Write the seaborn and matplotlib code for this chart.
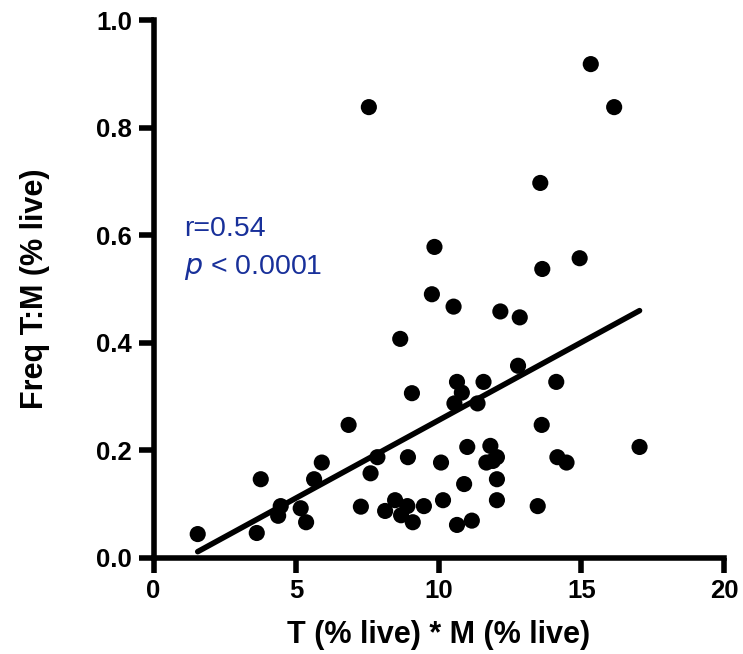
import matplotlib
matplotlib.use("Agg")
import matplotlib.pyplot as plt
import seaborn as sns
import numpy as np
import pandas as pd

# Data
tm_product = [1.55, 3.62, 3.76, 4.37, 4.46, 5.16, 5.35, 5.63, 5.90, 6.84,
              7.27, 7.55, 7.61, 7.85, 8.12, 8.47, 8.68, 8.65, 8.90, 8.92,
              9.06, 9.09, 9.48, 9.76, 9.85, 10.08, 10.15, 10.52, 10.55, 10.64,
              10.64, 10.81, 10.89, 11.00, 11.16, 11.36, 11.57, 11.67, 11.81, 11.90,
              12.04, 12.04, 12.04, 12.16, 12.78, 12.84, 13.47, 13.56, 13.61, 13.63,
              14.12, 14.16, 14.48, 14.94, 15.33, 16.15, 17.04]
freq_tm = [0.044, 0.046, 0.146, 0.078, 0.096, 0.092, 0.066, 0.146, 0.177, 0.247,
           0.095, 0.838, 0.157, 0.187, 0.087, 0.107, 0.079, 0.407, 0.096, 0.187,
           0.306, 0.066, 0.096, 0.490, 0.578, 0.177, 0.107, 0.467, 0.287, 0.327,
           0.061, 0.307, 0.137, 0.206, 0.069, 0.287, 0.327, 0.177, 0.208, 0.180,
           0.187, 0.146, 0.107, 0.458, 0.357, 0.447, 0.096, 0.697, 0.247, 0.537,
           0.327, 0.187, 0.177, 0.557, 0.918, 0.838, 0.206]
x_ticks = [0, 5, 10, 15, 20]
y_ticks = [0.0, 0.2, 0.4, 0.6, 0.8, 1.0]
y_tick_labels = ["0.0", "0.2", "0.4", "0.6", "0.8", "1.0"]
stat_r = "r=0.54"

df = pd.DataFrame({"x": tm_product, "y": freq_tm})

sns.set_style("ticks")
plt.rcParams['font.family'] = ['Liberation Sans', 'DejaVu Sans']
plt.rcParams['text.color'] = 'black'
plt.rcParams['axes.labelcolor'] = 'black'
plt.rcParams['xtick.color'] = 'black'
plt.rcParams['ytick.color'] = 'black'

fig = plt.figure(figsize=(7.43, 6.54), dpi=100)
ax = fig.add_axes([0.2066, 0.1472, 0.7678, 0.8222])

sns.regplot(data=df, x="x", y="y", ax=ax, ci=None, truncate=True,
            scatter=False, line_kws=dict(color="black", lw=4.0, solid_capstyle="round"))
sns.scatterplot(data=df, x="x", y="y", ax=ax, color="black", s=135,
                edgecolor="none", linewidth=0, zorder=3)

ax.set_xlim(0, 20)
ax.set_ylim(0, 1.0)
ax.set_xticks(x_ticks)
ax.set_yticks(y_ticks)
ax.set_yticklabels(y_tick_labels)
for s in ["top", "right"]:
    ax.spines[s].set_visible(False)
for s in ["left", "bottom"]:
    ax.spines[s].set_linewidth(4.0)
    ax.spines[s].set_color("black")
    ax.spines[s].set_capstyle("projecting")
ax.tick_params(axis="both", width=4.0, length=10.5, labelsize=18.5, pad=5,
               color="black", labelcolor="black")
for lab in ax.get_xticklabels() + ax.get_yticklabels():
    lab.set_fontweight("bold")

ax.set_xlabel("T (% live) * M (% live)", fontsize=22, fontweight="bold", va="center")
ax.set_ylabel("Freq T:M (% live)", fontsize=22, fontweight="bold", va="center")
ax.xaxis.set_label_coords(0.5, -0.144)
ax.yaxis.set_label_coords(-0.207, 0.5)

blue = "#18309A"
ax.text(1.07, 0.612, stat_r, color=blue, fontsize=20.5, va="center", ha="left")
ax.text(1.07, 0.54, r"$\it{p}$ < 0.0001", color=blue, fontsize=20.5, va="center", ha="left")

fig.savefig("out.png", dpi=100)
